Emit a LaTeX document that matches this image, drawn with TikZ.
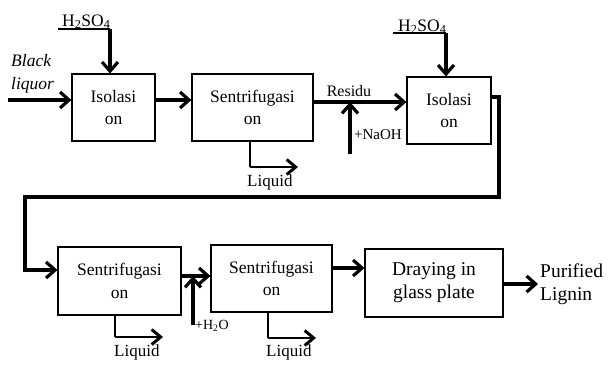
\documentclass[tikz,border=0pt]{standalone}
\usepackage{fontspec}
\setmainfont{Liberation Serif}
\usetikzlibrary{arrows.meta,calc,positioning}

\tikzset{
  box/.style={draw,line width=1.1pt,align=center,inner sep=0pt,
    font=\fontsize{17.5}{22.5}\selectfont},
  flow/.style={line width=3.2pt,line join=miter,-{Straight Barb[length=9pt,width=16pt]}},
  drain/.style={line width=2.4pt,-{Straight Barb[length=9pt,width=15pt,line width=3pt]}},
  feed/.style={line width=1.1pt},
  lbl/.style={inner sep=0pt,font=\fontsize{16}{20}\selectfont},
}

\begin{document}
\begin{tikzpicture}[x=1pt,y=-1pt]
\useasboundingbox (0,0) rectangle (609,365);

% process boxes
\node[box,minimum width=83pt,minimum height=67pt] (iso1) at (113.5,107.5) {Isolasi\\on};
\node[box,minimum width=121pt,minimum height=67pt] (cen1) at (252.5,107.5) {Sentrifugasi\\on};
\node[box,minimum width=84pt,minimum height=67pt] (iso2) at (449,110.5) {Isolasi\\on};
\node[box,minimum width=123pt,minimum height=68pt] (cen2) at (119.5,281) {Sentrifugasi\\on};
\node[box,minimum width=121pt,minimum height=67pt] (cen3) at (271.5,278.5) {Sentrifugasi\\on};
\node[box,minimum width=138pt,minimum height=68pt,font=\fontsize{19.5}{23}\selectfont] (dry) at (434,283) {Draying in\\glass plate};

% feed of black liquor
\coordinate (blin) at (8,100);
\node[lbl,anchor=north west,align=left,font=\itshape\fontsize{17.5}{23}\selectfont] (black) at (11,54) {Black\\liquor};
\draw[flow] (blin) -- (blin -| iso1.west);

% acid to first isolation
\node[lbl,anchor=base west,font=\fontsize{17.5}{20}\selectfont] (acid1) at (62,26) {H\textsubscript{2}SO\textsubscript{4}};
\coordinate (acid1L) at (58,29);
\coordinate (acid1R) at (110,29);
\draw[feed] (acid1L) -- (acid1R);
\draw[flow] (acid1R) -- (acid1R |- iso1.north);

\draw[flow] ([yshift=7.5pt]iso1.east) -- ([yshift=7.5pt]cen1.west);

% liquid out of first centrifuge
\coordinate (liq1a) at (250,167);
\coordinate (liq1b) at (298,167);
\draw[feed] (liq1a |- cen1.south) -- (liq1a);
\draw[drain] (liq1a) -- (liq1b);
\node[lbl,anchor=base west,font=\fontsize{17}{20}\selectfont] (liq1) at (247,186) {Liquid};

% residue plus NaOH
\coordinate (mix1) at (350,102);
\coordinate (naoh) at (350,154);
\node[lbl,anchor=base] (res) at (349,96) {Residu};
\draw[flow] (cen1.east |- mix1) -- (iso2.west |- mix1);
\draw[flow] (naoh) -- (mix1);
\node[lbl,anchor=base west,font=\fontsize{15}{18}\selectfont] (naohlbl) at (354,139) {+NaOH};

% acid to second isolation
\node[lbl,anchor=base west,font=\fontsize{17.5}{20}\selectfont] (acid2) at (398,31) {H\textsubscript{2}SO\textsubscript{4}};
\coordinate (acid2L) at (393,33);
\coordinate (acid2R) at (446,33);
\draw[feed] (acid2L) -- (acid2R);
\draw[flow] (acid2R) -- (acid2R |- iso2.north);

% return to second row
\coordinate (loopA) at (499,97);
\coordinate (loopB) at (25,197);
\coordinate (loopC) at (25,270);
\draw[flow] (iso2.east |- loopA) -- (loopA) |- (loopB) -- (loopC) -- (cen2.west |- loopC);

% liquid out of second centrifuge
\coordinate (liq2a) at (115,337);
\coordinate (liq2b) at (163,337);
\draw[feed] (liq2a |- cen2.south) -- (liq2a);
\draw[drain] (liq2a) -- (liq2b);
\node[lbl,anchor=base west,font=\fontsize{17}{20}\selectfont] (liq2) at (114,356) {Liquid};

% water wash
\coordinate (mix2) at (193,276);
\coordinate (water) at (193,325);
\draw[flow] (cen2.east |- mix2) -- (cen3.west |- mix2);
\draw[flow] (water) -- (mix2);
\node[lbl,anchor=base west,font=\fontsize{14}{18}\selectfont] (waterlbl) at (195,329) {+H\textsubscript{2}O};

% liquid out of third centrifuge
\coordinate (liq3a) at (268,338);
\coordinate (liq3b) at (316,338);
\draw[feed] (liq3a |- cen3.south) -- (liq3a);
\draw[drain] (liq3a) -- (liq3b);
\node[lbl,anchor=base west,font=\fontsize{17}{20}\selectfont] (liq3) at (266,356) {Liquid};

% drying and product
\coordinate (row3) at (345,268);
\draw[flow] (cen3.east |- row3) -- (dry.west |- row3);
\node[lbl,anchor=west,align=left,font=\fontsize{19.5}{23}\selectfont] (prod) at (540,284) {Purified\\Lignin};
\draw[flow] (dry.east |- prod.west) -- ([xshift=-2pt]prod.west);
\end{tikzpicture}
\end{document}
